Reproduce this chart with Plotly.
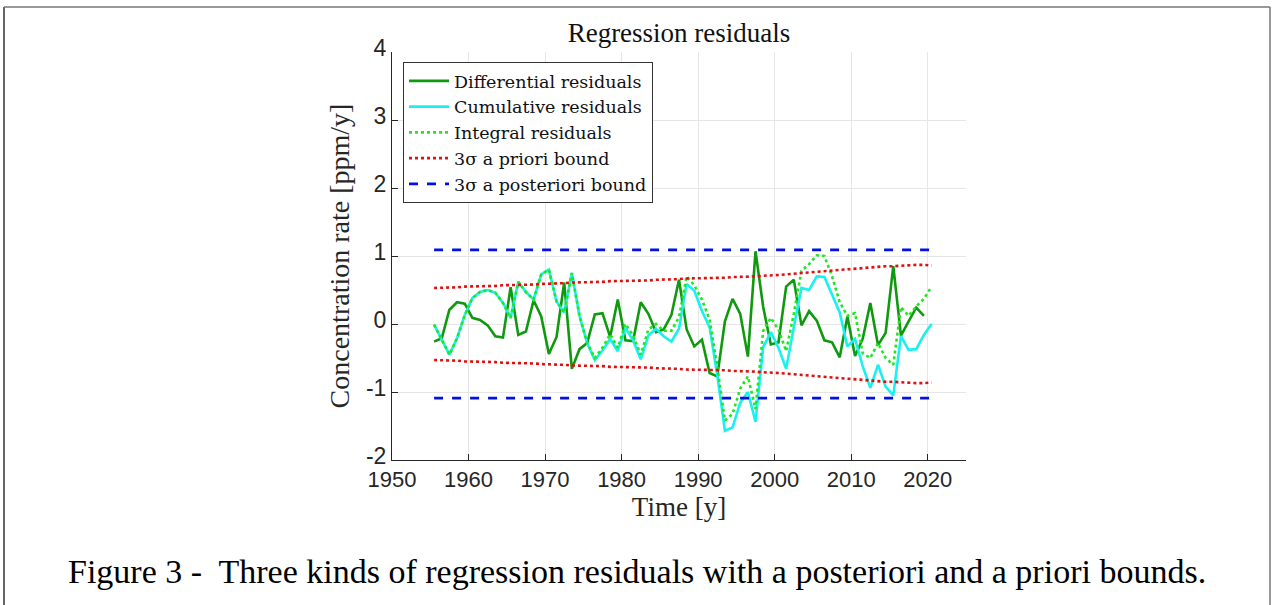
import plotly.graph_objects as go

years_full = [1955.5 + i for i in range(66)]          # 1955.5 .. 2020.5
years_diff = years_full[:65]                           # 1955.5 .. 2019.5

differential = [-0.26, -0.21, 0.21, 0.32, 0.30, 0.09, 0.06, -0.02, -0.18, -0.20,
                0.54, -0.16, -0.11, 0.35, 0.11, -0.44, -0.19, 0.61, -0.66, -0.37,
                -0.28, 0.14, 0.16, -0.19, 0.36, -0.24, -0.25, 0.32, 0.15, -0.12,
                -0.08, 0.13, 0.65, -0.08, -0.33, -0.23, -0.72, -0.77, 0.04, 0.37,
                0.15, -0.48, 1.07, 0.25, -0.30, -0.27, 0.55, 0.65, -0.02, 0.19,
                0.05, -0.24, -0.27, -0.49, 0.11, -0.47, -0.22, 0.31, -0.31, -0.13,
                0.85, -0.17, 0.04, 0.24, 0.12]

cumulative = [-0.01, -0.23, -0.45, -0.21, 0.13, 0.38, 0.47, 0.50, 0.46, 0.31,
              0.09, 0.62, 0.47, 0.36, 0.73, 0.80, 0.33, 0.17, 0.75, 0.12,
              -0.28, -0.53, -0.39, -0.22, -0.40, -0.06, -0.24, -0.52, -0.17, -0.07,
              -0.18, -0.26, -0.07, 0.59, 0.49, 0.19, -0.05, -0.75, -1.57, -1.52,
              -1.16, -1.00, -1.44, -0.34, -0.12, -0.35, -0.66, -0.05, 0.53, 0.50,
              0.70, 0.69, 0.43, 0.17, -0.33, -0.22, -0.62, -0.94, -0.60, -0.92,
              -1.05, -0.18, -0.38, -0.37, -0.16, 0.00]

integral = [-0.01, -0.23, -0.45, -0.21, 0.13, 0.38, 0.47, 0.50, 0.46, 0.31,
            0.09, 0.62, 0.47, 0.36, 0.73, 0.80, 0.33, 0.17, 0.75, 0.12,
            -0.28, -0.50, -0.35, -0.15, -0.35, 0.00, -0.17, -0.45, -0.08, 0.00,
            -0.10, -0.10, 0.10, 0.70, 0.57, 0.36, 0.06, -0.62, -1.42, -1.32,
            -0.95, -0.77, -1.25, -0.10, 0.09, -0.08, -0.40, 0.15, 0.78, 0.88,
            1.01, 1.00, 0.70, 0.32, 0.12, 0.16, -0.43, -0.50, -0.28, -0.50,
            -0.60, 0.25, 0.12, 0.26, 0.37, 0.55]

prior_bound = [0.53, 0.53, 0.54, 0.54, 0.55, 0.55, 0.55, 0.56, 0.56, 0.57,
               0.57, 0.58, 0.58, 0.58, 0.59, 0.59, 0.60, 0.60, 0.61, 0.61,
               0.61, 0.62, 0.62, 0.63, 0.63, 0.63, 0.63, 0.64, 0.64, 0.65,
               0.65, 0.66, 0.66, 0.67, 0.67, 0.67, 0.68, 0.68, 0.68, 0.69,
               0.69, 0.70, 0.70, 0.71, 0.71, 0.72, 0.73, 0.74, 0.75, 0.76,
               0.77, 0.78, 0.79, 0.80, 0.80, 0.81, 0.82, 0.83, 0.84, 0.85,
               0.85, 0.86, 0.86, 0.87, 0.87, 0.86]

posterior_years = [1955.5, 2020.5]
posterior_bound = [1.09, 1.09]

x_ticks = [1950, 1960, 1970, 1980, 1990, 2000, 2010, 2020]
y_ticks = [-2, -1, 0, 1, 2, 3, 4]

SERIF = "Liberation Serif, Times New Roman, serif"
LEGSERIF = "DejaVu Serif, Liberation Serif, serif"
SANS = "Liberation Sans, Arial, sans-serif"

fig = go.Figure()
fig.add_trace(go.Scatter(x=years_diff, y=differential, mode="lines",
                         name="Differential residuals",
                         line=dict(color="#0f990f", width=2.6)))
fig.add_trace(go.Scatter(x=years_full, y=cumulative, mode="lines",
                         name="Cumulative residuals",
                         line=dict(color="#19f0f0", width=2.6)))
fig.add_trace(go.Scatter(x=years_full, y=integral, mode="lines",
                         name="Integral residuals",
                         line=dict(color="#22e622", width=2.6, dash="dot")))
fig.add_trace(go.Scatter(x=years_full, y=prior_bound, mode="lines",
                         name="3σ a priori bound",
                         line=dict(color="#dd1111", width=2.6, dash="dot")))
fig.add_trace(go.Scatter(x=years_full, y=[-v for v in prior_bound], mode="lines",
                         showlegend=False,
                         line=dict(color="#dd1111", width=2.6, dash="dot")))
fig.add_trace(go.Scatter(x=posterior_years, y=posterior_bound, mode="lines",
                         name="3σ a posteriori bound",
                         line=dict(color="#0010e6", width=2.6, dash="dash")))
fig.add_trace(go.Scatter(x=posterior_years, y=[-v for v in posterior_bound], mode="lines",
                         showlegend=False,
                         line=dict(color="#0010e6", width=2.6, dash="dash")))

L, R, T, B = 392, 966, 52, 460
W, H = 1274, 605
pw, ph = R - L, B - T

def px_x(x):
    return (x - L) / pw

def px_y(y):
    return (B - y) / ph

fig.update_layout(
    width=W, height=H,
    margin=dict(l=L, r=W - R, t=T, b=H - B, pad=0),
    paper_bgcolor="white", plot_bgcolor="white",
    showlegend=True,
    legend=dict(x=px_x(403), y=px_y(62), xanchor="left", yanchor="top",
                bgcolor="white", bordercolor="#333333", borderwidth=1,
                font=dict(family=LEGSERIF, size=17.5, color="#111111"),
                itemwidth=40, tracegroupgap=0),
    title=dict(text="Regression residuals", x=679 / W,
               xanchor="center", y=1 - 33 / H, yanchor="middle",
               font=dict(family=SERIF, size=27, color="#111111")),
    xaxis=dict(range=[1950, 2025], tickvals=x_ticks, ticktext=[str(v) for v in x_ticks],
               showgrid=True, gridcolor="#e6e6e6", gridwidth=1,
               zeroline=False, showline=True, linecolor="#262626", linewidth=1,
               ticks="inside", ticklen=6, tickcolor="#262626",
               tickfont=dict(family=SANS, size=22, color="#262626"),
               title=dict(text="Time [y]", standoff=5,
                          font=dict(family=SERIF, size=27, color="#262626"))),
    yaxis=dict(range=[-2, 4], tickvals=y_ticks, ticktext=[str(v) for v in y_ticks],
               showgrid=True, gridcolor="#e6e6e6", gridwidth=1,
               zeroline=False, showline=True, linecolor="#262626", linewidth=1,
               ticks="inside", ticklen=6, tickcolor="#262626", ticklabelshift=-4,
               tickfont=dict(family=SANS, size=23, color="#262626"),
               title=dict(text="Concentration rate [ppm/y]", standoff=8,
                          font=dict(family=SERIF, size=28, color="#262626"))),
)

# caption below the figure
fig.add_annotation(text="Figure 3 -  Three kinds of regression residuals with a posteriori and a priori bounds.",
                   xref="paper", yref="paper", x=px_x(637), y=px_y(571),
                   xanchor="center", yanchor="middle", showarrow=False,
                   font=dict(family=SERIF, size=34, color="#000000"))

# page frame around the figure
fig.add_shape(type="line", xref="paper", yref="paper",
              x0=px_x(4), x1=px_x(4), y0=px_y(7), y1=px_y(610),
              line=dict(color="#333333", width=1.5))
fig.add_shape(type="line", xref="paper", yref="paper",
              x0=px_x(4), x1=px_x(1270), y0=px_y(7), y1=px_y(7),
              line=dict(color="#777777", width=1.5))
fig.add_shape(type="line", xref="paper", yref="paper",
              x0=px_x(1270), x1=px_x(1270), y0=px_y(7), y1=px_y(610),
              line=dict(color="#777777", width=1.5))

fig.write_html("out.html")
